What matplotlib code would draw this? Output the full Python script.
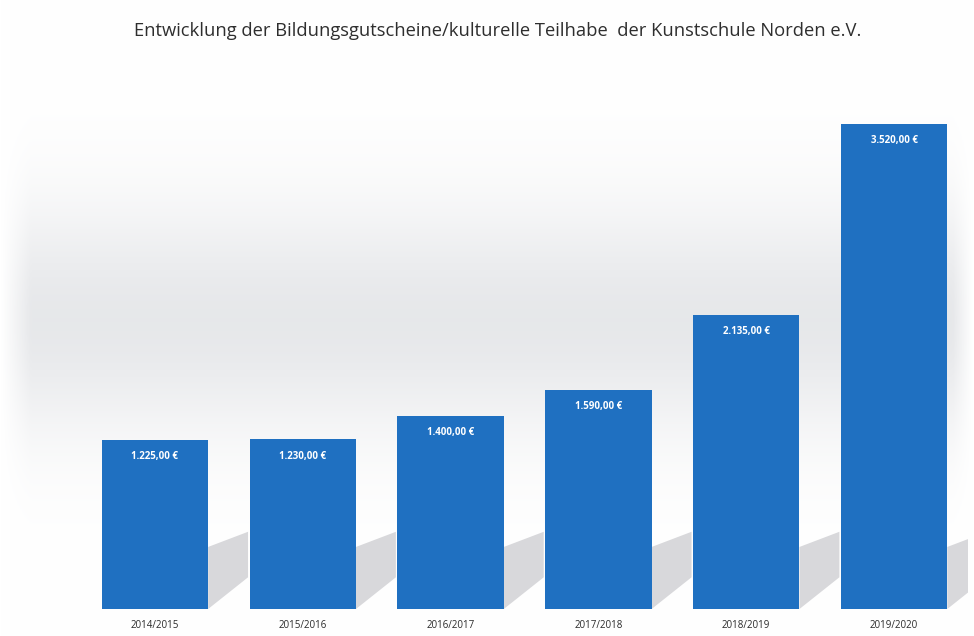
import matplotlib.pyplot as plt
from matplotlib.patches import Polygon
import numpy as np

years = ['2014/2015', '2015/2016', '2016/2017', '2017/2018', '2018/2019', '2019/2020']
amounts = [1225, 1230, 1400, 1590, 2135, 3520]
title = 'Entwicklung der Bildungsgutscheine/kulturelle Teilhabe  der Kunstschule Norden e.V.'

bar_color = '#1f70c1'


def euro(v):
	s = f"{v:,.2f}"
	s = s.replace(',', 'X').replace('.', ',').replace('X', '.')
	return s + ' €'


plt.rcParams['font.family'] = ['Open Sans', 'DejaVu Sans']

fig = plt.figure(figsize=(9.74, 6.36), dpi=100)

# soft grey band in the background
bg = fig.add_axes([0, 0, 1, 1], zorder=0)
yy = np.linspace(0, 636, 300)[:, None]
xx = np.linspace(0, 974, 400)[None, :]
band = np.exp(-((yy - 320) / 115.0) ** 2)
edge = np.clip(xx / 30.0, 0, 1) * np.clip((974 - xx) / 20.0, 0, 1)
shade = 0.095 * band * edge
img = np.ones((300, 400, 3))
img[..., 0] -= shade * 1.0
img[..., 1] -= shade * 0.95
img[..., 2] -= shade * 0.85
bg.imshow(img, extent=[0, 974, 636, 0], aspect='auto')
bg.set_xlim(0, 974)
bg.set_ylim(636, 0)
bg.axis('off')

ax = fig.add_axes([81 / 974, 27 / 636, 887 / 974, 524 / 636], zorder=1)
ax.patch.set_alpha(0)

x = np.arange(len(years))
width = 0.72

# little shadows behind the bars
for xi, v in zip(x, amounts):
	r = xi + width / 2
	shadow = Polygon([(r, 0), (r + 0.27, 230), (r + 0.27, 560), (r, 450)],
					 closed=True, color='#d8d8db', lw=0, zorder=1)
	ax.add_patch(shadow)

bars = ax.bar(x, amounts, width, color=bar_color, zorder=2)

for bar, v in zip(bars, amounts):
	ax.annotate(euro(v), (bar.get_x() + bar.get_width() / 2, bar.get_height()),
				xytext=(0, -12), textcoords='offset points', ha='center', va='center',
				color='white', fontsize=7, fontweight='bold', zorder=3)

ax.set_xlim(-0.5, len(years) - 0.5)
ax.set_ylim(0, 3800)
ax.set_xticks(x)
ax.set_xticklabels(years, fontsize=7, color='#2a2a2a')
ax.tick_params(axis='x', length=0, pad=8)
ax.set_yticks([])
for s in ax.spines.values():
	s.set_visible(False)

fig.text(498 / 974, 1 - 31 / 636, title, ha='center', va='center', fontsize=13.2, color='#2e2e2e')

fig.savefig('out.png', dpi=100)
